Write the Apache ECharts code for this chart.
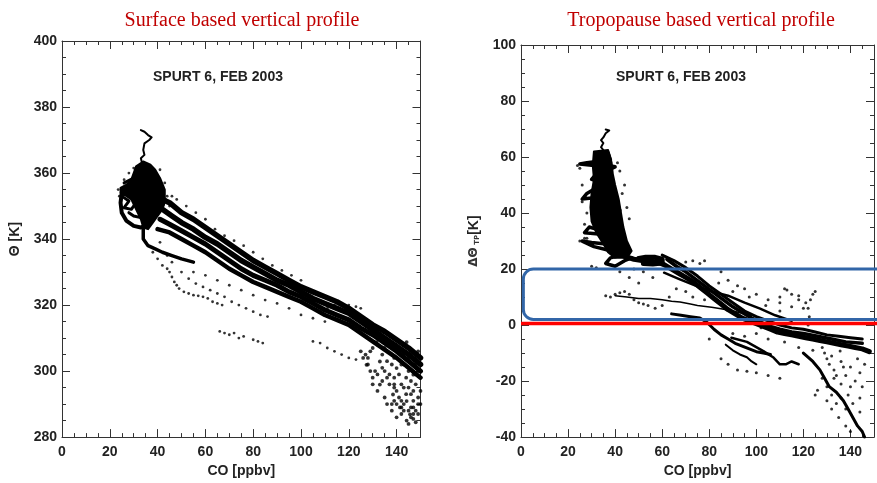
<!DOCTYPE html>
<html>
<head>
<meta charset="utf-8">
<script src="https://cdn.jsdelivr.net/npm/echarts@6/dist/echarts.min.js"></script>
<style>
html,body{margin:0;padding:0;background:#fff;}
#chart{width:877px;height:483px;}
</style>
</head>
<body>
<div id="chart"></div>
<script>
// left panel: CO [ppbv] vs theta [K]
var leftTail=[[33,373],[34.5,372.5],[36,371.5],[37.5,370.8],[36.5,370],[34.5,369],[34,367],[34.5,365.5],[33,364.5],[33.5,363]];
var leftCore=[[31,362],[34,363.5],[37,362.5],[39,361],[41,358.5],[43,355],[43,352],[42,349],[40,347],[38,345],[36,343],[34,343.5],[33,346],[31,349],[29,352],[27,353],[24.5,354],[24.5,355.5],[27,356.5],[29,358],[30,360]];
var leftLobe=[[25,354],[24.5,351],[25,348],[27,345.5],[30,344],[33,343.5],[36,344.5],[38,346],[40,348],[42,350],[43,352]];
var leftInner=[[28,348],[30,347],[33,346.5]];
var leftRows=[[26,357],[30,358.5],[28,355.5],[25,353],[28,351.5],[26,349.5],[29,349],[31,351]];
var leftUnder=[[34,343],[34,340],[36,338],[39,337],[42,336],[46,335],[50,334],[55,333]];
var leftBandA=[[42,352],[45,351],[50,348],[55,346],[60,343.5],[65,341],[70,338.5],[75,336],[80,333.5],[85,331.5],[90,329.5],[95,327.5],[100,325.5],[105,324],[110,322.5],[115,321],[120,319],[125,316.5],[130,314],[135,312],[140,309.5],[145,307],[150,304]];
var leftBandB=[[42,349],[46,347],[50,345],[55,343],[60,340.5],[65,338.5],[70,336],[75,333.5],[80,331.5],[85,329.5],[90,327.5],[95,326],[100,324],[105,322],[110,320.5],[115,319],[120,317.5],[125,315],[130,312.5],[135,310],[140,307.5],[145,305],[150,302]];
var leftBandC=[[41,346],[45,344.5],[50,342.5],[55,340.5],[60,338.5],[65,336],[70,333.5],[75,331],[80,329],[85,327.5],[90,326],[95,324],[100,322.5],[105,320.5],[110,318.5],[115,317],[120,315.5],[125,313],[130,311],[135,308.5],[140,306],[145,303],[150,300]];
var leftBandD=[[40,343],[45,342],[50,340],[55,338],[60,336],[65,333.5],[70,331],[75,329],[80,327],[85,325.5],[90,324],[95,322.5],[100,321],[105,319],[110,317],[115,315.5],[120,314],[125,311.5],[130,309],[135,306.5],[140,304],[145,301],[150,298]];
var leftSparse=[[44,331],[45,330],[46,328.5],[47,327],[48,326],[49,325],[51,324],[53,323.5],[55,323],[57,322.8],[59,322.5],[61,322],[63,321],[65,320.5],[67,320],
  [50,330],[53,328],[56,326.5],[59,325.5],[62,324.5],[65,323.5],[68,322.5],[71,321],[74,320],[77,319],[80,318],[83,317],[86,316.5],
  [66,312],[68,311.5],[70,311],[72,311.5],[74,310],[76,310.5],[80,309.5],[82,309],[84,308.5],
  [55,330],[60,329],[65,327.5],[70,326],[75,324.5],[80,323],[85,321.5],[90,320.5],[95,319],[100,317],[105,316],[110,315],
  [105,309],[108,308.5],[111,307],[114,306],[117,305],[120,304],[123,303.5],
  [108,318],[111,319],[114,320],[117,320.5],[120,320],[123,319.5],[125,319],
  [48,352],[52,350],[56,348],[60,346],[64,343],[68,341],[72,339.5],[76,338],[80,336],[84,334],[88,332],[92,330.5],[96,329],[100,327.5],
  [40,334],[42,332],[44,335],[46,333],[38,336],[41,339],[24,353],[23.5,355],[26,358],[28,360],[30,361.5],[41,361],[43,357],[44,353],[45,350],[46,353]];
var leftCluster=[[127.4,301.9],[131.6,308.8],[137.2,307.8],[144.2,308.8],[149,306],[147,298.9],[140,300.9],[133,302.9],[130,298],[133,295.9],[138.5,292.9],[144.2,290.9],[141.4,289],[145.6,286.9],[144.2,285],[147,287],[149,290],[150,294],
  [126,304],[128,302],[130,296],[132,294],[134,297],[136,290],[138,288],[140,290],[142,291],[125,306],[127,305],[145,284],[147,285.5],[149,287],
  [129,306],[134,305],[139,304],[143,302],[146,305],[148,302],[136,298],[142,296],[146,293],[139,295],[135,292],[143,288],[148,288],[131,300],
  [130,307],[132,308],[135,307],[141,306],[143,305],[145,304],[147,302],[149,300],[135,300],[137,299],[139,298],[141,299],[144,298],[146,297],[148,296],[137,296],[140,294],[144,293],[147,291],[149,292],[138,290],[142,289],[146,289],[150,290],[146,286],[148,284.5],[140,286],[132,299],[134,301],[128,304],[129,300],
  [136,303],[138,302],[142,302],[145,300],[148,299],[139,296],[143,295],[145,295],[147,294],[141,292],[139,291],[143,290],[147,289],[142,287],[145,288]];

// right panel: CO [ppbv] vs delta theta TP [K]
var rightTail=[[36,69.8],[37.5,69.5],[36,68.5],[35,67],[34,66],[35,65],[34,63.5],[35,62.5]];
var rightCoreShape=[[31,62],[37,62.5],[38.5,58],[39,54],[40,50],[41.5,45],[42.5,40],[43.5,35],[45,30],[47,26.5],[45,24],[40,24],[37,26],[35,29],[32,33],[30,37],[29.5,42],[30,47],[31,52],[30.5,57]];
var rightColumn=[[33,61],[37,61.5],[38,59],[33,58.5],[28,58],[25,57.5],[31,57],[37,57],[40,56.5],[36,55],[32,54],[30,52],[34,51],[38,52],[36,49.5],[31,48.5],[28,47],[26,45],[31,45.5],[35,45],[39,44],[37,42],[33,41],[31,39.5],[35,38],[40,38.5],[42,41],[41,37],[37,35],[33,34],[29,35],[27,33],[33,32.5],[38,32],[42,30.5],[39,29],[35,29],[30,29.5],[26,30],[31,28],[36,27],[40,26],[43,25],[38,24],[36,22],[40,21],[44,23],[47,24]];
var rightBlob=[[50,23.8],[53,24.2],[57,24.2],[60,23.5],[60,22.2],[56,21.8],[52,22]];
var rightBand=[[44,24.5],[48,23.5],[52,23],[55,22.8],[58,22.5],[61,21.5],[64,20],[67,18.5],[70,17],[73,15.5],[76,13.5],[79,11.5],[82,9.5],[85,7.5],[88,5.5],[91,4],[94,2.5],[97,1.5],[100,0.5],[103,-0.5],[106,-1.5],[109,-2.5],[112,-3],[115,-3.5],[118,-4],[121,-4.5],[124,-5],[127,-5.5],[130,-6],[133,-6.5],[136,-7],[139,-7.5],[142,-8],[145,-8.5],[148,-9.5]];
var rightBandMid=[[62,23.5],[66,21],[70,19],[74,16.5],[78,14],[82,11.5],[86,9],[90,6.5],[94,4.5],[98,2.5],[102,1],[106,-0.5],[110,-1.5],[115,-2.5],[120,-3],[126,-4],[132,-5],[138,-6],[145,-6.5]];
var rightBand2=[[60,25],[65,23],[70,20.5],[75,17.5],[80,14],[85,11],[90,8],[95,5],[100,3],[105,1.5],[110,0],[115,-1],[120,-1.5],[125,-2.5],[130,-3.5],[135,-4],[140,-4.5],[145,-5]];
var rightT1=[[40,10.5],[45,10],[50,9.5],[55,9.5],[60,9],[64,8.5],[67.6,8.2],[72,7.5],[75,7],[81,6.4],[85,5.8],[90,5],[94,4.2],[97.6,3.5]];
var rightT2=[[60.8,18.7],[67,16.5],[74.4,14],[81,12],[88,10.5],[95,8],[101.6,5.9],[108,3.5],[115,1.5]];
var rightLower=[[64,4],[68,3.5],[72,3],[76,2.5],[79,1],[82,-1.5],[85,-3.5],[88,-5],[91,-6.5],[94,-7.5],[97,-8.5],[100,-9.5],[103,-10],[106,-10.5]];
var rightLower2=[[87,-7],[90,-9],[93,-10.5],[96,-11.5],[98,-13],[100,-14]];
var rightLower3=[[89.4,-4.5],[96,-6],[103,-9.3],[107.3,-11.6],[110,-14],[112.5,-14],[115,-13],[118,-14]];
var rightBottom=[[120,-10],[124,-13],[127,-16],[129,-19],[131,-22],[134,-24],[137,-27],[139,-30],[141,-33],[143,-36],[145,-38],[146,-40]];
var rightSparse=[[25,30],[27,31],[30,21],[32,20.5],[36,10.5],[38,10],[40,11],[42,11.5],[44,12],[46,11],[48,9],[50,8],[52,7.5],[54,7],[57,6],[60,7],[63,10],[66,13],[70,22.5],[73,23],[76,22],[78,23],[85,19],[88,16],[92,14],[95,13],[100,11],[105,9],[110,8],[113,12.5],[118,9],[121,8],[120,6],[115,6.5],[110,5],[102,-1],[95,-4],[90,-3],[80,-5],[85,-12],[88,-14],[92,-16],[96,-16.5],[100,-17],[105,-18],[110,-19],[125,-25],[130,-27],[132,-30],[135,-33],[138,-36],[140,-38],[142,-41],
  [112,13],[115,11],[118,10.5],[125,12],[110,10],[48,20],[52,19],[56,17],[46,17],[50,15],[42,19],[70,12],[73,10],[78,9],[84,15],[90,12],[97,10],[104,7],[100,-3],[105,-5],[112,-6],[118,-8],[124,-9],[130,-12],[134,-18],[140,-22],[144,-26],[138,-30],[136,-26],
  [128,-8],[132,-11],[136,-13],[140,-15],[144,-17],[126,-23.3],[130,-22],[133,-19],[137,-15],[135.6,-9.3],[122,0],[122.5,3],[122,6],[123,9],[124,11],
  [129,-10],[131,-14],[133,-16],[138,-18],[142,-20],[145,-22],[139,-25],[141,-28],[144,-31],[136,-21],[132,-25],[128,-19],[134,-28],[143,-12],[146,-14],
  [24,57],[25,56],[26,50],[27,46],[26,44],[28,40],[27,36],[28,31],[44,50],[43,47],[45,42],[46,38],[41,58],[42,55]];

var zeroLine=[[0,0.6],[160,0.6]];
var boxCo=[1,160];
var boxTheta=[2,20];

var leftTicks=[280,400,20];
var rightTicks=[-40,100,20];
var coTicks=[0,150,20];

var tickFont={fontFamily:'Liberation Sans',fontWeight:'bold',fontSize:14,color:'#222'};

function xAx(grid,pos,label){
    return {type:'value',gridIndex:grid,position:pos,min:coTicks[0],max:coTicks[1],interval:coTicks[2],
        name:label?'CO [ppbv]':'',nameLocation:'middle',nameGap:24,
        nameTextStyle:tickFont,
        axisLine:{onZero:false,lineStyle:{color:'#333',width:1}},
        axisTick:{inside:true,length:8,lineStyle:{color:'#333'}},
        minorTick:{show:true,splitNumber:4,length:4,lineStyle:{color:'#333'}},
        axisLabel:{show:label,margin:8,fontFamily:tickFont.fontFamily,fontWeight:'bold',fontSize:14,color:'#222',
            formatter:function(v){return v===150?'':v;}},
        splitLine:{show:false}};
}
function yAx(grid,pos,t,name){
    return {type:'value',gridIndex:grid,position:pos,min:t[0],max:t[1],interval:t[2],
        name:name||'',nameLocation:'middle',nameGap:40,nameRotate:90,
        nameTextStyle:{fontFamily:'Liberation Sans',fontWeight:'bold',fontSize:14,color:'#222',
            rich:{a:{fontFamily:'DejaVu Sans',fontSize:12,color:'#333'},s:{fontFamily:'DejaVu Sans',fontSize:7,color:'#333',padding:[6,0,0,0]},b:{fontFamily:'Liberation Sans',fontWeight:'bold',fontSize:14,color:'#222'}}},
        axisLine:{onZero:false,lineStyle:{color:'#333',width:1}},
        axisTick:{inside:true,length:8,lineStyle:{color:'#333'}},
        minorTick:{show:true,splitNumber:4,length:4,lineStyle:{color:'#333'}},
        axisLabel:{show:!!name,margin:5,fontFamily:'Liberation Sans',fontWeight:'bold',fontSize:14,color:'#222'},
        splitLine:{show:false}};
}
function track(xi,yi,data,w){
    return {type:'line',xAxisIndex:xi,yAxisIndex:yi,data:data,showSymbol:false,symbol:'none',silent:true,animation:false,
        lineStyle:{color:'#000',width:w,cap:'round',join:'round'},z:3};
}
function dots(xi,yi,data,size){
    return {type:'scatter',xAxisIndex:xi,yAxisIndex:yi,data:data,symbolSize:size||2.6,silent:true,animation:false,
        itemStyle:{color:'#000'},z:3};
}
function patch(xi,yi,pts){
    return {type:'custom',xAxisIndex:xi,yAxisIndex:yi,data:[pts[0]],silent:true,animation:false,z:3,
        renderItem:function(params,api){
            return {type:'polygon',shape:{points:pts.map(function(d){return api.coord(d);})},
                style:{fill:'#000',stroke:'#000',lineWidth:2,lineJoin:'round'}};
        }};
}

var myChart=echarts.init(document.getElementById('chart'));
var option={
    backgroundColor:'#fff',
    animation:false,
    grid:[{left:62,top:41,width:358.5,height:402},{left:521,top:45,width:367.5,height:399}],
    xAxis:[xAx(0,'bottom',true),xAx(0,'top',false),xAx(1,'bottom',true),xAx(1,'top',false)],
    yAxis:[yAx(0,'left',leftTicks,'\u0398 [K]'),yAx(0,'right',leftTicks,''),
        yAx(1,'left',rightTicks,'{a|\u0394\u0398}{s| TP}{b|[K]}'),yAx(1,'right',rightTicks,'')],
    graphic:[
        {type:'text',x:242,y:21,style:{text:'Surface based vertical profile',fontFamily:'Liberation Serif',fontSize:20,fill:'#c00000',align:'center',verticalAlign:'middle'}},
        {type:'text',x:701,y:21,style:{text:'Tropopause based vertical profile',fontFamily:'Liberation Serif',fontSize:20,fill:'#c00000',align:'center',verticalAlign:'middle'}},
        {type:'text',x:218,y:77,style:{text:'SPURT 6, FEB 2003',fontFamily:'Liberation Sans',fontWeight:'bold',fontSize:14,fill:'#222',align:'center',verticalAlign:'middle'}},
        {type:'text',x:681,y:77,style:{text:'SPURT 6, FEB 2003',fontFamily:'Liberation Sans',fontWeight:'bold',fontSize:14,fill:'#222',align:'center',verticalAlign:'middle'}}
    ],
    series:[
        track(0,0,leftTail,2),
        patch(0,0,leftCore),
        track(0,0,leftLobe,4),
        track(0,0,leftInner,3),
        track(0,0,leftRows,3),
        track(0,0,leftUnder,3.5),
        track(0,0,leftBandA,5.5),
        track(0,0,leftBandB,5.5),
        track(0,0,leftBandC,5),
        track(0,0,leftBandD,4.5),
        dots(0,0,leftSparse,2.8),
        dots(0,0,leftCluster,3.8),
        track(2,2,rightTail,2),
        patch(2,2,rightCoreShape),
        track(2,2,rightColumn,3.5),
        track(2,2,rightBlob,5),
        track(2,2,rightBand,5),
        track(2,2,rightBandMid,3.5),
        track(2,2,rightBand2,3),
        track(2,2,rightT1,1.5),
        track(2,2,rightT2,2.5),
        track(2,2,rightLower,3),
        track(2,2,rightLower2,2),
        track(2,2,rightLower3,2.5),
        track(2,2,rightBottom,3),
        dots(2,2,rightSparse,3),
        {type:'line',xAxisIndex:2,yAxisIndex:2,data:zeroLine,showSymbol:false,symbol:'none',silent:true,clip:false,
            lineStyle:{color:'#ff0000',width:3.5},z:5},
        {type:'custom',xAxisIndex:2,yAxisIndex:2,data:[[boxCo[0],boxTheta[0]]],silent:true,clip:false,z:6,
            renderItem:function(params,api){
                var p0=api.coord([boxCo[0],boxTheta[1]]);
                var p1=api.coord([boxCo[1],boxTheta[0]]);
                return {type:'rect',shape:{x:p0[0],y:p0[1],width:p1[0]-p0[0],height:p1[1]-p0[1],r:10},
                    style:{fill:'none',stroke:'#3266a8',lineWidth:3}};
            }}
    ]
};
myChart.setOption(option);
</script>
</body>
</html>
